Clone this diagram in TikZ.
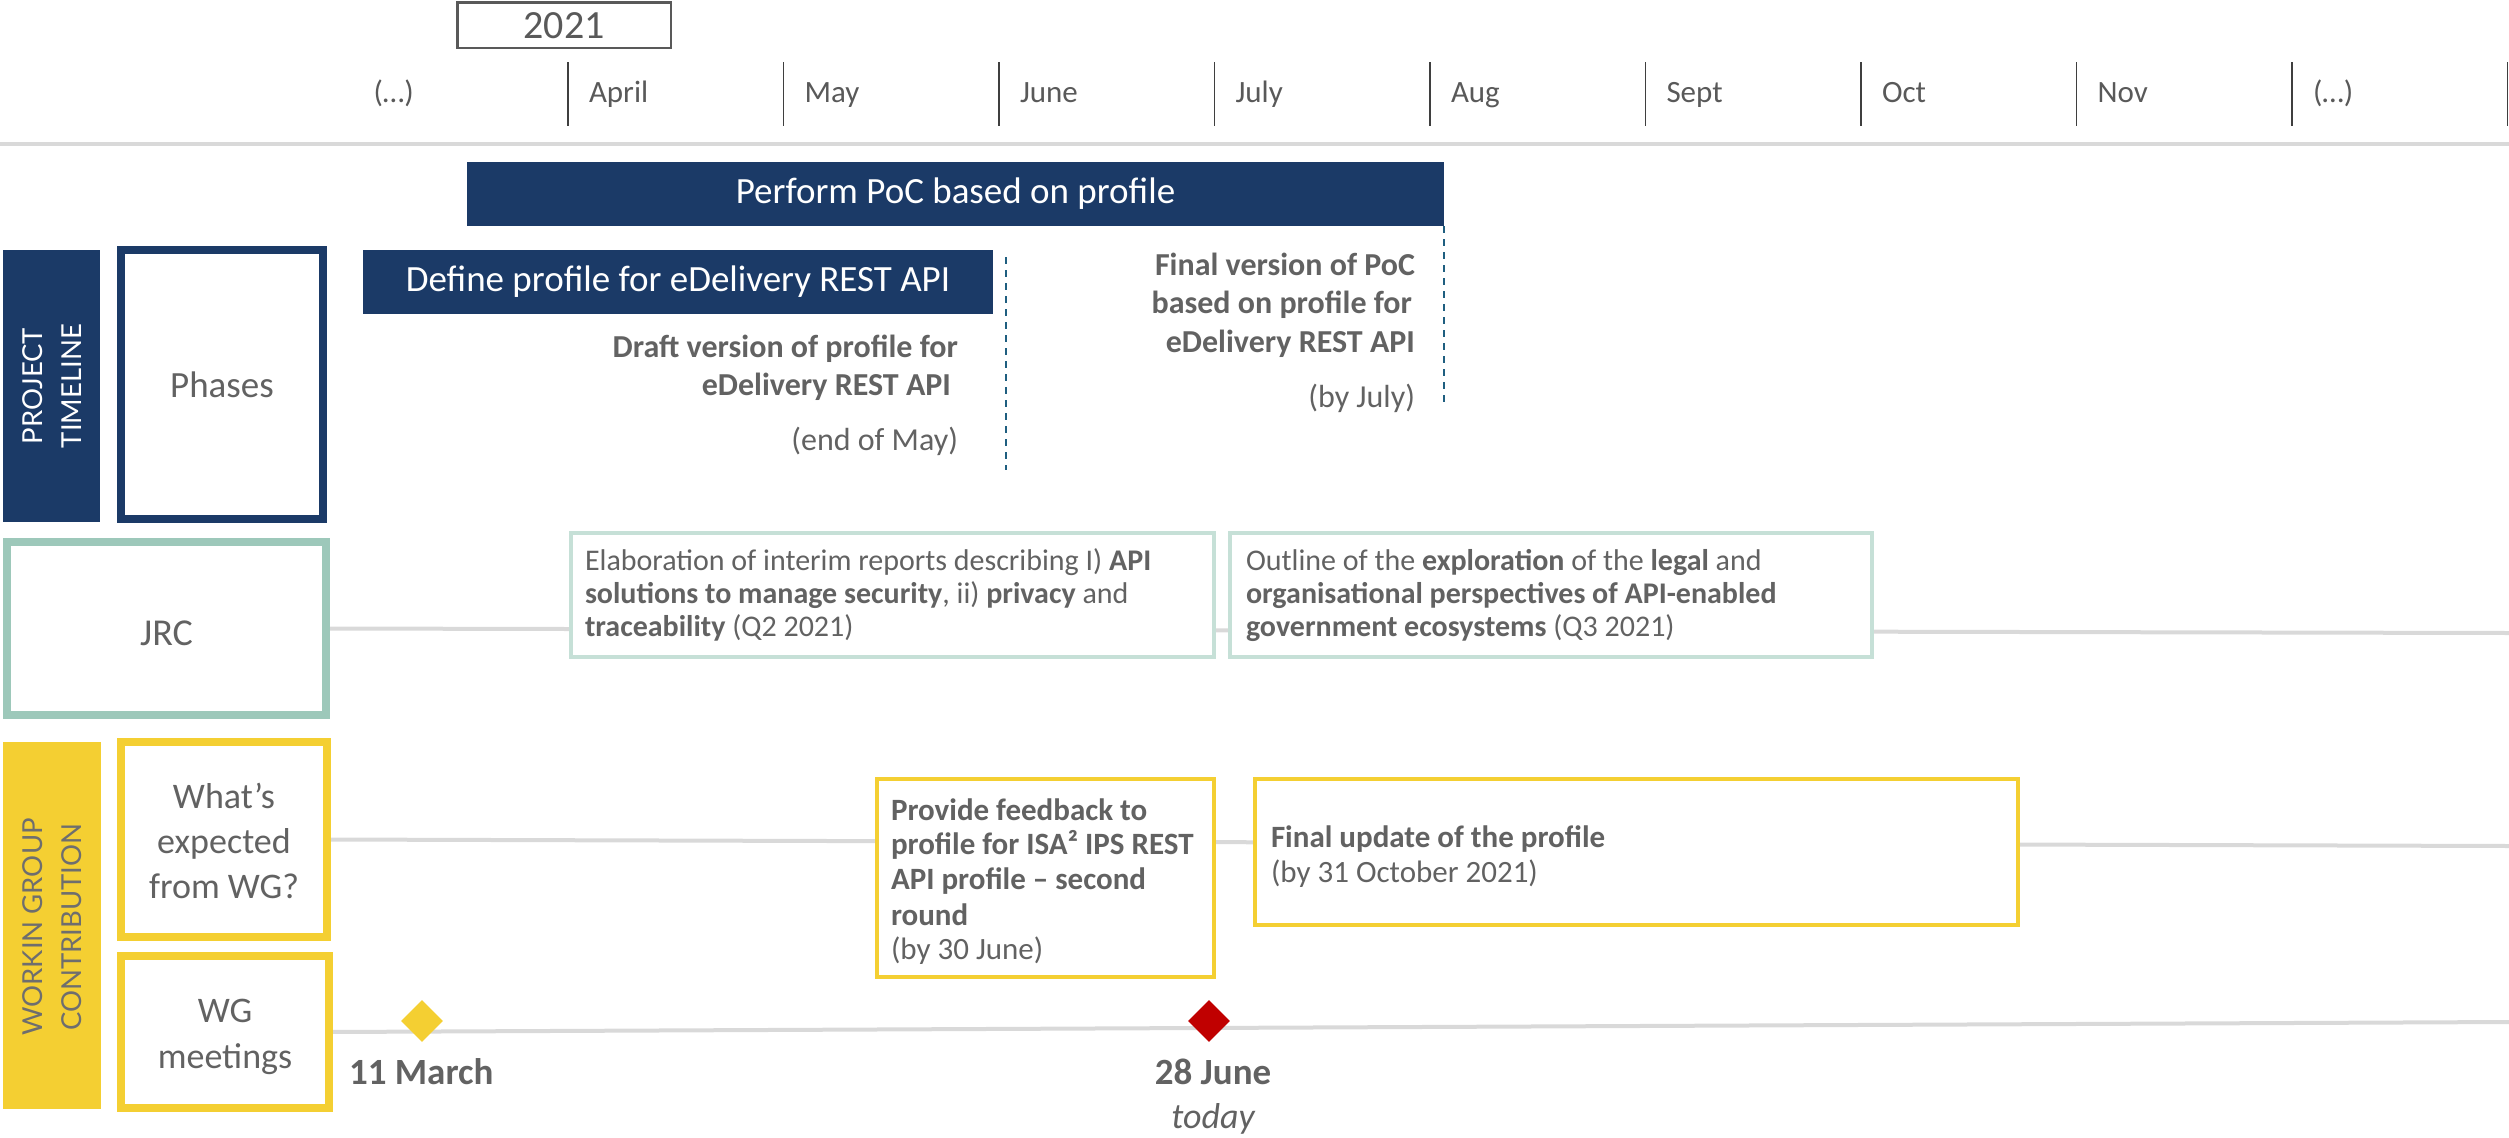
\documentclass[tikz,border=0pt]{standalone}
\usepackage{fontspec}
\setmainfont{Carlito}
\newfontfamily\capsfont{Lato}
\usetikzlibrary{shapes.geometric}

\definecolor{navy}{HTML}{1B3A67}
\definecolor{sage}{HTML}{9DC8BA}
\definecolor{sagelight}{HTML}{C6E0D7}
\definecolor{wgyellow}{HTML}{F4CF32}
\definecolor{txtgray}{HTML}{626262}
\definecolor{yeargray}{HTML}{595959}
\definecolor{labelgray}{HTML}{6E6E6E}
\definecolor{rulegray}{HTML}{D9D9D9}
\definecolor{dashblue}{HTML}{1F5E80}
\definecolor{tickgray}{HTML}{3F3F3F}
\definecolor{todayred}{HTML}{C00000}

\newcommand\setfs[2]{\fontsize{#1}{#2}\selectfont}

\pgfdeclarelayer{bg}
\pgfsetlayers{bg,main}

\tikzset{
  txt/.style={text=txtgray, inner sep=0pt, outer sep=0pt},
  bartxt/.style={text=white, inner sep=0pt, font=\setfs{37}{44}},
  solidbar/.style={fill=navy, draw=none, inner sep=0pt, outer sep=0pt},
  framed/.style 2 args={draw=#1, line width=#2, fill=white, inner sep=0pt, outer sep=0pt},
  rule/.style={draw=rulegray, line width=4},
  tick/.style={draw=tickgray, line width=1.5},
  milestone/.style={draw=dashblue, line width=2, dash pattern=on 7pt off 6pt},
  marker/.style={diamond, fill=#1, draw=none, minimum width=42, minimum height=42, inner sep=0pt},
  bodyfont/.style={font=\setfs{30}{35}},
  mstone/.style={font=\setfs{32}{38}},
}

\begin{document}
\begin{tikzpicture}[x=1pt,y=-1pt]
\useasboundingbox (0,0) rectangle (2509,1138);

% ---------- calendar header ----------
\node[framed={yeargray}{2.5}, minimum width=213.5, minimum height=45.5] (year) at (564,25) {};
\node[txt, text=yeargray, font=\setfs{40}{48}, anchor=base] (yearT) at (564,38) {2021};

\foreach \i in {0,...,9}
  \draw[tick] ({568+215.5*\i},62) -- ({568+215.5*\i},126);

\foreach \m [count=\i from 0] in {(…),April,May,June,July,Aug,Sept,Oct,Nov,(…)}
  \node[txt, text=yeargray, font=\setfs{31}{37}, anchor=base west] (month\i) at ({373.5+215.5*\i},102) {\m};

\coordinate (sepL) at (0,144);
\coordinate (sepR) at (2509,144);

% ---------- project timeline ----------
\node[solidbar, minimum width=97, minimum height=272] (ptl) at (51.5,386) {};
\node[text=white, inner sep=0pt, rotate=90, align=center, font=\capsfont\setfs{27.5}{39}] (ptlT) at (52,386) {PROJECT\\TIMELINE};

\node[framed={navy}{8}, minimum width=202, minimum height=269] (phases) at (222,384.5) {};
\node[txt, font=\setfs{37}{44}, anchor=base] (phasesT) at (222,397) {Phases};

\node[solidbar, minimum width=977, minimum height=64] (poc) at (955.5,194) {};
\node[bartxt] (pocT) at (poc.center) {Perform PoC based on profile};

\node[solidbar, minimum width=630, minimum height=64] (define) at (678,282) {};
\node[bartxt] (defineT) at (define.center) {Define profile for eDelivery REST API};

\coordinate (draftTop) at (1006,257);
\coordinate (draftBot) at (1006,470);
\coordinate (finalBot) at (1444,407);
\draw[milestone] (draftTop) -- (draftBot);
\draw[milestone] (poc.south east) -- (finalBot);

\node[txt, mstone, anchor=base east] (draft1) at (958,357) {\textbf{Draft version of profile for}};
\node[txt, mstone, anchor=base east] (draft2) at (958,395) {\textbf{eDelivery REST API}\kern7pt};
\node[txt, mstone, anchor=base east] (draft3) at (958,450) {(end of May)};

\node[txt, mstone, anchor=base east] (final1) at (1415,275) {\textbf{Final version of PoC}};
\node[txt, mstone, anchor=base east] (final2) at (1415,313) {\textbf{based on profile for}\kern3pt};
\node[txt, mstone, anchor=base east] (final3) at (1415,352) {\textbf{eDelivery REST API}};
\node[txt, mstone, anchor=base east] (final4) at (1415,407) {(by July)};

% ---------- JRC ----------
\node[framed={sage}{8}, minimum width=319, minimum height=173] (jrc) at (166.5,628.5) {};
\node[txt, font=\setfs{38}{45}, anchor=base] (jrcT) at (166.5,645) {JRC};
\coordinate (jrcEnd) at (2509,633);

\node[framed={sagelight}{4}, minimum width=643, minimum height=124] (jrcA) at (892.5,595) {};
\node[txt, bodyfont, anchor=base west] (jrcA1) at (585,570) {Elaboration of interim reports describing I) \textbf{API}};
\node[txt, bodyfont, anchor=base west] (jrcA2) at (585,603) {\textbf{solutions to manage security}, ii) \textbf{privacy} and};
\node[txt, bodyfont, anchor=base west] (jrcA3) at (585,636) {\textbf{traceability} (Q2 2021)};

\node[framed={sagelight}{4}, minimum width=642, minimum height=124] (jrcB) at (1551,595) {};
\node[txt, bodyfont, anchor=base west] (jrcB1) at (1246,570) {Outline of the \textbf{exploration} of the \textbf{legal} and};
\node[txt, bodyfont, anchor=base west] (jrcB2) at (1246,603) {\textbf{organisational perspectives of API-enabled}};
\node[txt, bodyfont, anchor=base west] (jrcB3) at (1246,636) {\textbf{government ecosystems} (Q3 2021)};

% ---------- working group ----------
\node[fill=wgyellow, draw=none, inner sep=0pt, minimum width=98, minimum height=367] (wg) at (52,925.5) {};
\node[text=labelgray, inner sep=0pt, rotate=90, align=center, font=\capsfont\setfs{27.5}{39}] (wgT) at (52.5,927) {WORKIN GROUP\\CONTRIBUTION};

\node[framed={wgyellow}{8}, minimum width=206, minimum height=195] (expect) at (224,839.5) {};
\node[txt, font=\setfs{36}{45}, anchor=base] (expect1) at (224,808) {What’s};
\node[txt, font=\setfs{36}{45}, anchor=base] (expect2) at (224,853) {expected};
\node[txt, font=\setfs{36}{45}, anchor=base] (expect3) at (224,898) {from WG?};
\coordinate (expectEnd) at (2509,846);

\node[framed={wgyellow}{8}, minimum width=208, minimum height=152] (meet) at (225,1032) {};
\node[txt, font=\setfs{36}{45}, anchor=base] (meet1) at (225,1022) {WG};
\node[txt, font=\setfs{36}{45}, anchor=base] (meet2) at (225,1068) {meetings};
\coordinate (meetEnd) at (2509,1022);

\node[framed={wgyellow}{4}, minimum width=337, minimum height=198] (feedback) at (1045.5,878) {};
\node[txt, bodyfont, font=\setfs{31}{35}, anchor=base west] (fb1) at (891,820) {\textbf{Provide feedback to}};
\node[txt, bodyfont, font=\setfs{31}{35}, anchor=base west] (fb2) at (891,854) {\textbf{profile for ISA² IPS REST}};
\node[txt, bodyfont, font=\setfs{31}{35}, anchor=base west] (fb3) at (891,889) {\textbf{API profile – second}};
\node[txt, bodyfont, font=\setfs{31}{35}, anchor=base west] (fb4) at (891,925) {\textbf{round}};
\node[txt, bodyfont, font=\setfs{31}{35}, anchor=base west] (fb5) at (891,959) {(by 30 June)};

\node[framed={wgyellow}{4}, minimum width=763, minimum height=146] (update) at (1636.5,852) {};
\node[txt, font=\setfs{31}{35}, anchor=base west] (up1) at (1271,847) {\textbf{Final update of the profile}};
\node[txt, font=\setfs{31}{35}, anchor=base west] (up2) at (1271,882) {(by 31 October 2021)};

\node[marker=wgyellow] (march) at (422,1021) {};
\node[marker=todayred] (june) at (1209,1021) {};
\node[txt, font=\setfs{37}{44}\bfseries, anchor=base west] (marchT) at (349,1084) {11 March};
\node[txt, font=\setfs{37}{44}\bfseries, anchor=base] (juneT) at (1213,1084) {28 June};
\node[txt, font=\setfs{36}{44}\itshape, anchor=base] (todayT) at (1213,1128) {today};

% ---------- row rules behind the boxes ----------
\begin{pgfonlayer}{bg}
  \draw[rule] (sepL) -- (sepR);
  \draw[rule] (jrc.east) -- (jrcEnd);
  \draw[rule] (expect.east) -- (expectEnd);
  \draw[rule] (meet.east) -- (meetEnd);
\end{pgfonlayer}
\end{tikzpicture}
\end{document}
